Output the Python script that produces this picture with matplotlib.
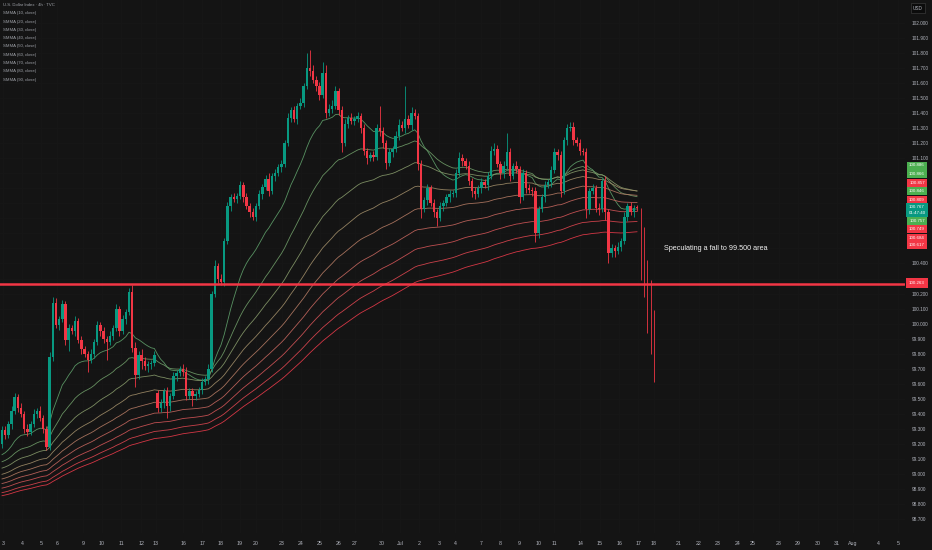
import matplotlib
matplotlib.use("Agg")
import matplotlib.pyplot as plt
import numpy as np

# 4h closes
closes = [
    99.29, 99.26, 99.33, 99.42, 99.51, 99.44, 99.40, 99.30, 99.28, 99.33,
    99.40, 99.42, 99.37, 99.30, 99.18, 99.78, 100.14, 99.99, 100.03, 100.13,
    99.89, 99.97, 99.95, 100.02, 99.89, 99.83, 99.80, 99.76, 99.80, 99.88,
    99.99, 99.95, 99.90, 99.88, 99.92, 99.97, 100.10, 99.95, 100.03, 100.08,
    100.21, 99.84, 99.66, 99.79, 99.75, 99.72, 99.73, 99.74, 99.79, 99.44,
    99.47, 99.55, 99.45, 99.52, 99.65, 99.67, 99.70, 99.68, 99.52, 99.55,
    99.52, 99.53, 99.56, 99.61, 99.63, 99.70, 100.20, 100.38, 100.30, 100.28,
    100.55, 100.78, 100.84, 100.83, 100.85, 100.92, 100.84, 100.78, 100.74, 100.71,
    100.78, 100.86, 100.91, 100.96, 100.88, 100.98, 101.00, 101.04, 101.06, 101.20,
    101.37, 101.42, 101.36, 101.45, 101.47, 101.58, 101.70, 101.68, 101.62, 101.58,
    101.52, 101.67, 101.40, 101.43, 101.45, 101.55, 101.42, 101.20, 101.33, 101.37,
    101.35, 101.36, 101.38, 101.30, 101.15, 101.10, 101.12, 101.11, 101.30, 101.28,
    101.20, 101.07, 101.14, 101.16, 101.25, 101.32, 101.30, 101.36, 101.32, 101.40,
    101.38, 101.06, 100.76, 100.82, 100.90, 100.80, 100.74, 100.70, 100.78, 100.80,
    100.84, 100.86, 100.87, 101.00, 101.10, 101.08, 101.05, 100.95, 100.88, 100.86,
    100.90, 100.94, 100.92, 100.98, 101.15, 101.16, 101.06, 101.00, 101.05, 101.14,
    100.98, 101.05, 101.03, 100.84, 101.00, 100.90, 100.89, 100.88, 100.60, 100.76,
    100.84, 100.92, 100.94, 101.02, 101.14, 101.12, 100.88, 101.22, 101.30, 101.31,
    101.22, 101.20, 101.15, 101.14, 100.76, 100.88, 100.90, 100.77, 100.76, 100.95,
    100.74, 100.47, 100.50, 100.48, 100.51, 100.55, 100.71, 100.78, 100.74, 100.77,
    100.767,
]
wick_up = [
    .03, .03, .02, .03, .03, .02, .03, .02, .03, .02,
    .03, .02, .03, .02, .02, .03, .04, .03, .02, .03,
    .02, .03, .02, .03, .02, .03, .02, .02, .03, .02,
    .03, .02, .03, .02, .03, .02, .03, .02, .03, .02,
    .03, .05, .04, .03, .04, .03, .02, .02, .03, .02,
    .03, .02, .03, .02, .03, .02, .02, .03, .03, .02,
    .02, .02, .02, .03, .02, .03, .02, .04, .02, .03,
    .02, .03, .02, .03, .02, .03, .02, .03, .02, .03,
    .02, .03, .02, .03, .04, .02, .03, .02, .03, .02,
    .03, .02, .03, .02, .03, .02, .10, .12, .04, .03,
    .03, .07, .05, .03, .04, .03, .02, .03, .03, .02,
    .03, .02, .03, .02, .03, .02, .02, .03, .03, .15,
    .03, .02, .03, .02, .03, .04, .03, .22, .03, .04,
    .03, .02, .03, .02, .03, .02, .03, .02, .03, .02,
    .02, .03, .02, .03, .04, .03, .02, .03, .02, .03,
    .02, .03, .02, .03, .03, .04, .03, .02, .03, .13,
    .03, .02, .03, .02, .03, .02, .03, .02, .03, .02,
    .02, .03, .02, .03, .03, .02, .03, .02, .03, .03,
    .03, .02, .03, .02, .03, .02, .03, .02, .03, .02,
    .03, .02, .03, .02, .03, .02, .03, .02, .03, .02,
    .02,
]
wick_dn = [
    .03, .03, .02, .03, .02, .03, .02, .03, .03, .02,
    .02, .03, .02, .03, .02, .02, .03, .02, .03, .02,
    .03, .07, .02, .03, .02, .03, .02, .08, .02, .03,
    .02, .03, .03, .12, .02, .03, .02, .03, .02, .03,
    .02, .03, .08, .03, .05, .03, .04, .03, .02, .03,
    .03, .03, .08, .03, .02, .03, .02, .03, .03, .02,
    .07, .03, .02, .03, .02, .03, .02, .02, .03, .02,
    .03, .02, .03, .02, .03, .02, .03, .02, .03, .02,
    .03, .02, .03, .02, .03, .02, .03, .02, .03, .02,
    .02, .03, .02, .03, .02, .03, .02, .03, .02, .03,
    .03, .02, .03, .02, .03, .02, .03, .06, .02, .03,
    .02, .03, .02, .03, .03, .04, .02, .03, .02, .03,
    .03, .04, .02, .03, .02, .03, .02, .03, .02, .03,
    .02, .04, .06, .02, .03, .02, .03, .05, .02, .03,
    .02, .03, .02, .03, .02, .03, .02, .03, .04, .03,
    .02, .03, .02, .03, .02, .03, .02, .04, .03, .02,
    .03, .02, .03, .04, .02, .03, .02, .03, .06, .03,
    .02, .03, .02, .03, .02, .03, .04, .02, .03, .02,
    .03, .02, .03, .02, .06, .03, .02, .03, .04, .02,
    .05, .07, .03, .04, .02, .03, .02, .03, .02, .03,
    .02,
]
first_open = 99.20
gap_opens = {49: 99.54}

ma_periods = [10, 20, 30, 40, 50, 60, 70, 80, 90]
ma_start = [99.11, 99.07, 99.03, 98.99, 98.96, 98.93, 98.90, 98.87, 98.85]
ma_colors = ['#5f9f6a', '#6f9c68', '#86996a', '#9f8c68', '#b37a63', '#c4665e', '#d25457',
             '#de4650', '#e83a4a']

box_values = ['100.886', '100.866', '100.857', '100.846', '100.809', '100.767\n01:47:40',
              '100.757', '100.749', '100.684', '100.617']
box_colors = ['#4caf50', '#4caf50', '#f23645', '#4caf50', '#f23645', '#089981',
              '#4caf50', '#f23645', '#f23645', '#f23645']
box_ypx = [165.5, 174, 182.5, 191, 199.5, 210, 220.5, 229, 237.5, 245]

level = 100.263
proj_high = [100.77, 100.64, 100.42, 100.29, 100.09]
proj_low = [100.29, 100.18, 99.94, 99.80, 99.61]

date_labels = ['3', '4', '5', '6', '9', '10', '11', '12', '13', '16', '17', '18', '19', '20',
               '23', '24', '25', '26', '27', '30', 'Jul', '2', '3', '4', '7', '8', '9', '10',
               '11', '14', '15', '16', '17', '18', '21', '22', '23', '24', '25', '28', '29',
               '30', '31', 'Aug', '4', '5']
date_px = [3, 22, 41, 57, 83, 102, 121, 141, 156, 183, 202, 221, 240, 256, 282, 301, 320, 339,
           355, 382, 400, 419, 439, 455, 481, 500, 519, 539, 554, 580, 600, 619, 638, 654, 679,
           699, 718, 738, 753, 779, 798, 818, 837, 853, 878, 898]

legend_lines = ['U.S. Dollar Index · 4h · TVC'] + ['SMMA (%d, close)' % p for p in ma_periods]

BG = '#141414'
TXT = '#b2b5be'
GREEN = '#089981'
RED = '#f23645'
SMALL = ['Liberation Sans', 'DejaVu Sans']
W, H = 932, 550
x0, dx = 2.0, 3.175   # pixel of bar 0, pixels per bar

closes = np.array(closes)
opens = np.concatenate([[first_open], closes[:-1]])
for k, v in gap_opens.items():
    opens[k] = v
highs = np.maximum(opens, closes) + np.array(wick_up)
lows = np.minimum(opens, closes) - np.array(wick_dn)
idx = np.arange(len(closes))

fig = plt.figure(figsize=(W / 100, H / 100), dpi=100, facecolor=BG)
ax = fig.add_axes([0, 17 / H, 905 / W, 533 / H], facecolor=BG)
ax.set_xlim((0 - x0) / dx, (905 - x0) / dx)
ax.set_ylim(102.0 - 510 * 0.006653, 102.0 + 23 * 0.006653)

for s in ax.spines.values():
    s.set_visible(False)

# very faint grid
yt = np.round(np.arange(98.7, 102.05, 0.1), 1)
for v in yt:
    ax.axhline(v, color='#171717', lw=0.6, zorder=0)
for p in date_px:
    ax.axvline((p - x0) / dx, color='#171717', lw=0.6, zorder=0)

# candles
col = np.where(closes >= opens, GREEN, RED)
ax.vlines(idx, lows, highs, colors=col, lw=0.6, zorder=3)
body = np.where(np.abs(closes - opens) < 0.008, 0.008, closes - opens)
ax.bar(idx, body, bottom=opens, width=0.76, color=col, lw=0, zorder=4)

# smoothed moving averages
for p, s0, c in zip(ma_periods, ma_start, ma_colors):
    vals = []
    s = s0
    for v in closes:
        s = (s * (p - 1) + v) / p
        vals.append(s)
    ax.plot(idx, vals, color=c, lw=0.6, alpha=0.9, zorder=2)

# horizontal level
ax.axhline(level, color=RED, lw=1.8, zorder=5)

# projected fall
pidx = np.arange(len(closes), len(closes) + len(proj_high)) + 0.3
ax.vlines(pidx, proj_low, proj_high, colors=RED, lw=0.7, alpha=0.85, zorder=3)
ax.text((664 - x0) / dx, 100.50, 'Speculating a fall to 99.500 area', color='#f0f0f0',
        fontsize=5.2, family=SMALL, va='center', ha='left')

# right price scale
ax.yaxis.tick_right()
hidden = (yt > 100.45) & (yt < 101.05) | (yt == 100.3)
ax.set_yticks(yt[~hidden])
ax.set_yticklabels(['%.3f' % v for v in yt[~hidden]], fontsize=3.4, color=TXT, family=SMALL)
ax.tick_params(axis='y', length=0, pad=5)

ax.set_xticks([(p - x0) / dx for p in date_px])
ax.set_xticklabels(date_labels, fontsize=3.8, color=TXT, family=SMALL)
ax.tick_params(axis='x', length=0, pad=6)

for txt, c, ypx in zip(box_values, box_colors, box_ypx):
    fig.text(917 / W, 1 - ypx / H, txt, fontsize=3.2, color='white', ha='center', va='center',
             family=SMALL, linespacing=1.5,
             bbox=dict(boxstyle='square,pad=0.45', fc=c, ec='none'))
fig.text(917 / W, 1 - 283 / H, '%.3f' % level, fontsize=3.2, color='white', ha='center',
         va='center', family=SMALL, bbox=dict(boxstyle='square,pad=0.6', fc=RED, ec='none'))
fig.text(918 / W, 1 - 8 / H, 'USD', fontsize=3.4, color=TXT, ha='center', va='center',
         family=SMALL, bbox=dict(boxstyle='square,pad=0.5', fc='#0c0c0c', ec='#3a3a3a', lw=0.5))

# legend
for k, t in enumerate(legend_lines):
    fig.text(3 / W, 1 - (5 + 8.3 * k) / H, t, fontsize=3.1, color='#a0a3aa', ha='left',
             va='center', family=SMALL)

fig.savefig('out.png', dpi=100, facecolor=BG)
